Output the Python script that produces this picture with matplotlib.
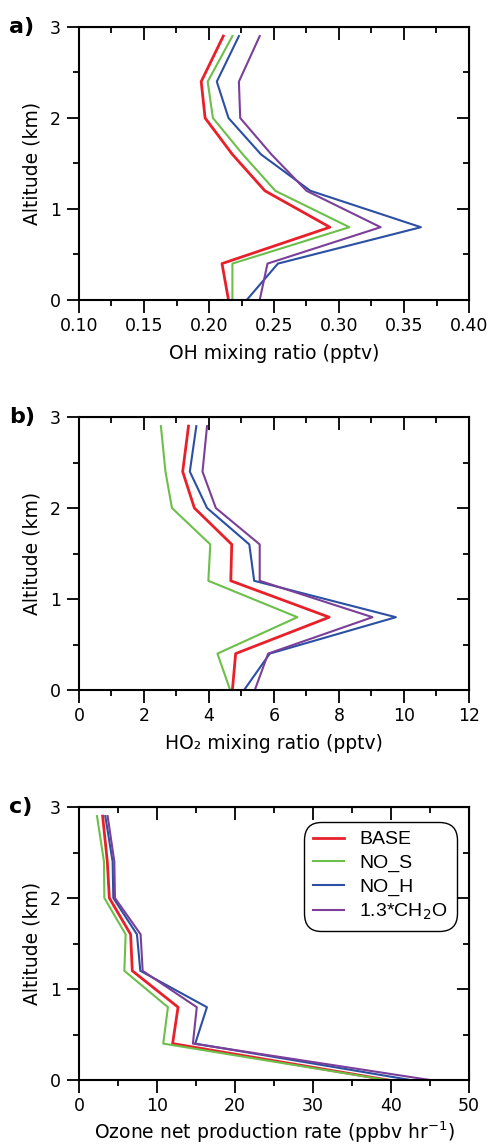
import matplotlib.pyplot as plt
from matplotlib.ticker import MultipleLocator
import numpy as np

# altitude levels (km)
alt = [0.0, 0.4, 0.8, 1.2, 1.6, 2.0, 2.4, 2.9]

# OH mixing ratio (pptv)
oh_base = [0.215, 0.210, 0.293, 0.243, 0.218, 0.197, 0.194, 0.211]
oh_nos = [0.218, 0.218, 0.308, 0.251, 0.226, 0.203, 0.199, 0.218]
oh_noh = [0.229, 0.253, 0.363, 0.278, 0.240, 0.215, 0.206, 0.223]
oh_ch2o = [0.239, 0.245, 0.332, 0.275, 0.248, 0.224, 0.223, 0.239]

# HO2 mixing ratio (pptv)
ho2_base = [4.72, 4.82, 7.70, 4.67, 4.70, 3.55, 3.19, 3.37]
ho2_nos = [4.65, 4.26, 6.72, 3.98, 4.04, 2.86, 2.66, 2.52]
ho2_noh = [5.08, 5.87, 9.75, 5.39, 5.24, 3.94, 3.41, 3.61]
ho2_ch2o = [5.41, 5.82, 9.03, 5.56, 5.56, 4.21, 3.80, 3.94]

# ozone net production rate (ppbv/hr)
po3_base = [39.6, 12.0, 12.7, 6.83, 6.62, 3.89, 3.63, 3.03]
po3_nos = [39.4, 10.8, 11.4, 5.81, 5.98, 3.25, 3.20, 2.31]
po3_noh = [42.5, 14.9, 16.4, 7.86, 7.43, 4.40, 4.31, 3.37]
po3_ch2o = [45.0, 14.6, 15.1, 8.16, 7.90, 4.61, 4.53, 3.67]

names = ['BASE', 'NO_S', 'NO_H', '1.3*CH$_2$O']
colors = ['#e8202a', '#6cbf4a', '#2b4fa3', '#7b3f99']
widths = [2.0, 1.5, 1.5, 1.5]

plt.rcParams['font.family'] = ['DejaVu Sans']

W, H = 489, 1146
fig = plt.figure(figsize=(W / 100, H / 100), dpi=100)


def make_axes(top_px, bottom_px):
    return fig.add_axes([79 / W, 1 - bottom_px / H, 390 / W, (bottom_px - top_px) / H])


def style(ax, xlim, xmajor, xminor, xfmt=None):
    ax.set_xlim(*xlim)
    ax.set_ylim(0, 3)
    ax.xaxis.set_major_locator(MultipleLocator(xmajor))
    ax.xaxis.set_minor_locator(MultipleLocator(xminor))
    ax.yaxis.set_major_locator(MultipleLocator(1))
    ax.yaxis.set_minor_locator(MultipleLocator(0.5))
    if xfmt:
        ax.xaxis.set_major_formatter(xfmt)
    ax.tick_params(which='both', direction='out', width=1.3, labelsize=12.5)
    ax.tick_params(which='major', length=9)
    ax.tick_params(which='minor', length=4.5)
    ax.tick_params(axis='y', pad=4)
    for s in ax.spines.values():
        s.set_linewidth(1.5)
    # top / right ticks point inward (same direction as bottom / left)
    top = ax.secondary_xaxis('top')
    top.xaxis.set_major_locator(MultipleLocator(xmajor))
    top.xaxis.set_minor_locator(MultipleLocator(xminor))
    top.tick_params(which='both', direction='in', width=1.3, labeltop=False)
    top.tick_params(which='major', length=9)
    top.tick_params(which='minor', length=4.5)
    right = ax.secondary_yaxis('right')
    right.yaxis.set_major_locator(MultipleLocator(1))
    right.yaxis.set_minor_locator(MultipleLocator(0.5))
    right.tick_params(which='both', direction='in', width=1.3, labelright=False)
    right.tick_params(which='major', length=9)
    right.tick_params(which='minor', length=4.5)
    ax.set_ylabel('Altitude (km)', fontsize=13.5, labelpad=6)


def panel_label(ax, s):
    ax.text(-0.18, 1.0, s, transform=ax.transAxes, fontsize=16,
            fontweight='bold', va='center')


# panel a
ax = make_axes(27, 300)
for vals, c, lw in zip([oh_base, oh_nos, oh_noh, oh_ch2o], colors, widths):
    ax.plot(vals, alt, color=c, lw=lw)
style(ax, (0.10, 0.40), 0.05, 0.025, '{x:.2f}')
ax.set_xlabel('OH mixing ratio (pptv)', fontsize=13.5, labelpad=6)
panel_label(ax, 'a)')

# panel b
ax = make_axes(417, 690)
for vals, c, lw in zip([ho2_base, ho2_nos, ho2_noh, ho2_ch2o], colors, widths):
    ax.plot(vals, alt, color=c, lw=lw)
style(ax, (0, 12), 2, 1)
ax.set_xlabel('HO₂ mixing ratio (pptv)', fontsize=13.5, labelpad=6)
panel_label(ax, 'b)')

# panel c
ax = make_axes(807, 1080)
for vals, c, lw, n in zip([po3_base, po3_nos, po3_noh, po3_ch2o], colors, widths, names):
    ax.plot(vals, alt, color=c, lw=lw, label=n)
style(ax, (0, 50), 10, 5)
ax.set_xlabel('Ozone net production rate (ppbv hr$^{-1}$)', fontsize=13.5, labelpad=3)
panel_label(ax, 'c)')
leg = ax.legend(loc='upper right', bbox_to_anchor=(0.968, 0.945),
                prop={'family': 'Liberation Sans', 'size': 14}, fancybox=True,
                edgecolor='black', framealpha=1, handlelength=1.6, handletextpad=0.8,
                labelspacing=0.3, borderpad=0.45, borderaxespad=0)
leg.get_frame().set_linewidth(1.0)
leg.get_frame().set_boxstyle('round', pad=0.0, rounding_size=0.9)

fig.savefig('out.png', dpi=100)
